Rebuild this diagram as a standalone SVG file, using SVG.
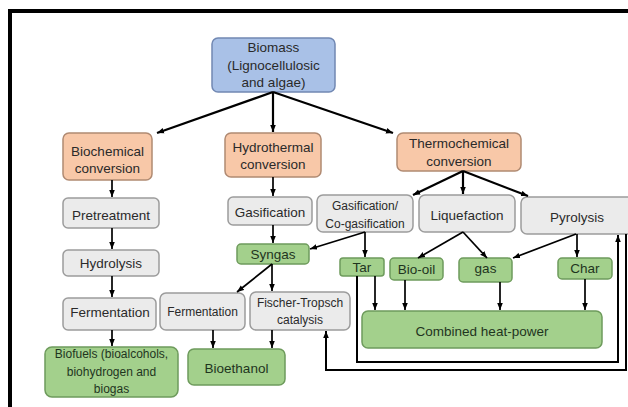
<svg xmlns="http://www.w3.org/2000/svg" width="628" height="407" viewBox="0 0 628 407">
<defs>
<marker id="ah" viewBox="0 0 10 10" refX="10" refY="5" markerWidth="7" markerHeight="7" markerUnits="userSpaceOnUse" orient="auto"><path d="M0,1 L10,5 L0,9 z" fill="#000"/></marker>
<style>
text{font-family:"Liberation Sans",Arial,sans-serif;font-size:13.5px;fill:#2a2a2a;text-anchor:middle}
.s{font-size:12px}
.blue rect{fill:#a9c1e7;stroke:#7188b3;stroke-width:1.5}
.peach rect{fill:#f8c8a8;stroke:#b08a72;stroke-width:1.5}
.gray rect{fill:#ebebeb;stroke:#9c9c9c;stroke-width:1.5}
.green rect{fill:#a3d08c;stroke:#6e9b5c;stroke-width:1.5}
.green text{fill:#1f351e}
.c path{fill:none;stroke:#000;stroke-width:1.7;marker-end:url(#ah)}
.c path.t{stroke-width:2.2}
.c path.l{stroke-width:2}
</style>
</defs>
<rect width="628" height="407" fill="#fff"/>
<path d="M10,407 V11 H628" fill="none" stroke="#000" stroke-width="4"/>

<g id="biomass" class="blue"><rect x="212" y="38" width="123" height="54" rx="6"/><text x="273.5" y="52">Biomass</text><text x="273.5" y="70">(Lignocellulosic</text><text x="273.5" y="87">and algae)</text></g>
<g id="biochemical" class="peach"><rect x="63" y="133" width="89" height="47" rx="6"/><text x="107.5" y="156">Biochemical</text><text x="107.5" y="173">conversion</text></g>
<g id="hydrothermal" class="peach"><rect x="225" y="133" width="96" height="44" rx="6"/><text x="273" y="152">Hydrothermal</text><text x="273" y="169">conversion</text></g>
<g id="thermochemical" class="peach"><rect x="397" y="133" width="124" height="38" rx="6"/><text x="459" y="148">Thermochemical</text><text x="459" y="166">conversion</text></g>
<g id="pretreatment" class="gray"><rect x="63" y="198" width="96" height="30" rx="5"/><text x="111" y="220">Pretreatment</text></g>
<g id="hydrolysis" class="gray"><rect x="63" y="250" width="96" height="26" rx="5"/><text x="111" y="268">Hydrolysis</text></g>
<g id="fermentation1" class="gray"><rect x="63" y="298" width="93" height="32" rx="5"/><text x="110" y="317">Fermentation</text></g>
<g id="biofuels" class="green"><rect x="45" y="347" width="133" height="50" rx="7"/><text class="s" x="111.5" y="358">Biofuels (bioalcohols,</text><text class="s" x="111.5" y="376">biohydrogen and</text><text class="s" x="111.5" y="393">biogas</text></g>
<g id="gasification" class="gray"><rect x="228" y="197" width="84" height="28" rx="5"/><text x="270" y="217">Gasification</text></g>
<g id="syngas" class="green"><rect x="237" y="244" width="72" height="20" rx="4"/><text x="273" y="259">Syngas</text></g>
<g id="fermentation2" class="gray"><rect x="160" y="293" width="85" height="37" rx="6"/><text class="s" x="202.5" y="316">Fermentation</text></g>
<g id="fischer" class="gray"><rect x="250" y="292" width="100" height="38" rx="6"/><text class="s" x="300" y="307">Fischer-Tropsch</text><text class="s" x="300" y="324">catalysis</text></g>
<g id="bioethanol" class="green"><rect x="188" y="349" width="97" height="36" rx="6"/><text x="236.5" y="373">Bioethanol</text></g>
<g id="gascogas" class="gray"><rect x="317" y="195" width="96" height="37" rx="6"/><text class="s" x="365" y="210">Gasification/</text><text class="s" x="365" y="228">Co-gasification</text></g>
<g id="liquefaction" class="gray"><rect x="419" y="195" width="96" height="37" rx="6"/><text x="467" y="220">Liquefaction</text></g>
<g id="pyrolysis" class="gray"><rect x="521" y="197" width="115" height="37" rx="6"/><text x="577" y="222">Pyrolysis</text></g>
<g id="tar" class="green"><rect x="340" y="258" width="44" height="18" rx="3"/><text x="362" y="272">Tar</text></g>
<g id="biooil" class="green"><rect x="390" y="258" width="53" height="22" rx="4"/><text x="416.5" y="274">Bio-oil</text></g>
<g id="gas" class="green"><rect x="459" y="258" width="53" height="24" rx="4"/><text x="485.5" y="273">gas</text></g>
<g id="char" class="green"><rect x="558" y="258" width="54" height="21" rx="4"/><text x="585" y="273">Char</text></g>
<g id="chp" class="green"><rect x="362" y="311" width="240" height="37" rx="6"/><text x="482" y="336">Combined heat-power</text></g>

<g id="connectors" class="c">
<path class="t" d="M273,92 L157,133"/>
<path class="t" d="M273,92 V132"/>
<path class="t" d="M273,92 L393,133"/>
<path d="M112,180 V197"/>
<path d="M112,228 V249"/>
<path d="M112,276 V297"/>
<path d="M112,330 V346"/>
<path d="M273,177 V196"/>
<path d="M273,225 V243"/>
<path class="t" d="M463,171 L413,195"/>
<path class="t" d="M463,171 V194"/>
<path class="t" d="M463,171 L528,196"/>
<path d="M365,232 L310,249"/>
<path d="M365,232 V257"/>
<path d="M463,232 L418,258"/>
<path d="M463,232 L487,258"/>
<path d="M576,234 L513,258"/>
<path d="M577,234 V257"/>
<path d="M272,264 L237,292"/>
<path d="M272,264 V291"/>
<path d="M213,330 V348"/>
<path d="M272,330 V348"/>
<path d="M375,276 V310"/>
<path d="M405,280 V310"/>
<path d="M500,282 V310"/>
<path d="M585,279 V310"/>
<path class="l" d="M357,276 V362 H618 V235"/>
<path class="l" d="M626,234 V370 H326 V331"/>
</g>
</svg>
